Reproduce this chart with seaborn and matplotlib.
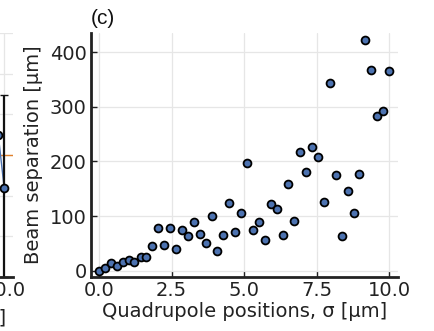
import numpy as np
import pandas as pd
import matplotlib
matplotlib.use("Agg")
import matplotlib.pyplot as plt
import seaborn as sns

# ---- data (panel c) ----
sigma = [0.0, 0.2, 0.41, 0.61, 0.82, 1.02, 1.22, 1.43, 1.63, 1.84,
         2.04, 2.24, 2.45, 2.65, 2.86, 3.06, 3.27, 3.47, 3.67, 3.88,
         4.08, 4.29, 4.49, 4.69, 4.9, 5.1, 5.31, 5.51, 5.71, 5.92,
         6.12, 6.33, 6.53, 6.73, 6.94, 7.14, 7.35, 7.55, 7.76, 7.96,
         8.16, 8.37, 8.57, 8.78, 8.98, 9.18, 9.39, 9.59, 9.8, 10.0]
separation = [0, 5.5, 14, 9, 16.5, 19, 16, 26, 26, 45,
              77.5, 47, 78, 40, 74.5, 63.5, 88.5, 66.5, 50, 101,
              36, 65, 123, 71.5, 105, 197, 75, 89, 56, 121.5,
              113, 66, 159, 91, 217, 181, 226.5, 209, 125, 344,
              175, 64, 145, 105.5, 177, 422.5, 367.5, 284, 293, 366]
xticks_c = [0.0, 2.5, 5.0, 7.5, 10.0]
yticks_c = [0, 100, 200, 300, 400]

# ---- data (partially visible panel b) ----
b_x = [9.8, 10.0]
b_y = [3.5, 2.2]
b_err_lo = [2.2]
b_err_hi = [2.27]
b_ref = 3.0

sns.set_theme(style="white")
plt.rcParams['font.family'] = ['DejaVu Sans']

W, H = 435, 331
fig = plt.figure(figsize=(W / 100, H / 100), dpi=100)

blue = "#4C72B0"
grid_c = "#e6e6e6"
txt = "#222222"
FS = 14

# main panel (c)
ax = fig.add_axes([91 / W, (H - 277) / H, (398 - 91) / W, (277 - 33) / H])
df = pd.DataFrame({"sigma": sigma, "sep": separation})
sns.scatterplot(data=df, x="sigma", y="sep", ax=ax, s=32, color=blue,
                edgecolor="black", linewidth=1.3, zorder=3, clip_on=False)
ax.set_xlim(-0.28, 10.31)
ax.set_ylim(-11.5, 435)
ax.set_xticks(xticks_c)
ax.set_xticklabels([f"{v:.1f}" for v in xticks_c])
ax.set_yticks(yticks_c)
ax.set_yticklabels([str(v) for v in yticks_c])
ax.grid(True, color=grid_c, linewidth=0.9)
ax.set_axisbelow(True)
for s in ["top", "right"]:
    ax.spines[s].set_visible(False)
for s in ["left", "bottom"]:
    ax.spines[s].set_linewidth(2.0)
    ax.spines[s].set_color(txt)
ax.tick_params(direction="in", length=4, width=1, labelsize=FS, colors=txt,
               pad=3, left=True, bottom=True)
ax.set_xlabel("Quadrupole positions, σ [μm]", fontsize=FS, color=txt, labelpad=1)
ax.set_ylabel("Beam separation [μm]", fontsize=FS, color=txt, labelpad=5)
ax.text(0.0, 1.02, "(c)", transform=ax.transAxes, fontsize=15,
        family=["Liberation Sans", "DejaVu Sans"], color="#111111", ha="left", va="bottom")

# partially visible left panel (b)
axb = fig.add_axes([-300 / W, (H - 277) / H, 313 / W, (277 - 33) / H])
axb.set_xlim(-0.3, 10.3)
axb.set_ylim(0, 6)
axb.plot(b_x, b_y, color=blue, linewidth=1.0, zorder=2)
axb.errorbar([b_x[1]], [b_y[1]], yerr=[b_err_lo, b_err_hi], fmt="none",
             ecolor="#111111", elinewidth=1.6, capsize=3, zorder=2, clip_on=False)
axb.scatter(b_x, b_y, s=32, color=blue, edgecolor="black", linewidth=1.3, zorder=3)
axb.axhline(b_ref, color="#E1812C", linewidth=1.0, zorder=1)
axb.set_yticks([1, 2, 3, 4, 5, 6])
axb.set_yticklabels([])
axb.set_xticks([10.0])
axb.set_xticklabels(["10.0"])
axb.grid(True, color=grid_c, linewidth=0.9)
axb.set_axisbelow(True)
for s in ["top", "right"]:
    axb.spines[s].set_visible(False)
axb.spines["bottom"].set_linewidth(2.0)
axb.spines["bottom"].set_color(txt)
axb.tick_params(direction="in", length=4, width=1, labelsize=FS, colors=txt, pad=3)
fig.text(6 / W, 1 - 318 / H, "Quadrupole positions, σ [μm]", fontsize=FS,
         color=txt, ha="right", va="center")

fig.savefig("out.png", dpi=100)
